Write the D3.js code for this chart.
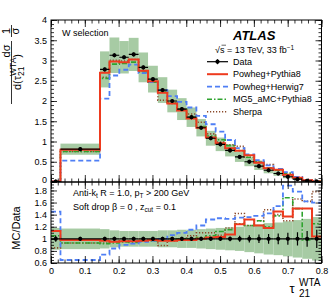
<!DOCTYPE html>
<html>
<head>
<meta charset="utf-8">
<script src="https://cdn.jsdelivr.net/npm/d3@7"></script>
<style>
  body { margin: 0; background: #fff; }
  svg { font-family: "Liberation Sans", Arial, Helvetica, sans-serif; }
  .axis text { font-size: 9px; fill: #000; }
  .axis line { stroke: #000; stroke-width: 0.8; }
  .lbl { font-size: 9px; fill: #000; }
</style>
</head>
<body>
<div id="chart"></div>
<script>

// bin edges of tau21 WTA (first narrow bin, one wide bin, then regular bins)
var binEdges = [0, 0.028, 0.145, 0.173, 0.202, 0.230, 0.259, 0.287, 0.316, 0.344, 0.373,
                0.401, 0.430, 0.458, 0.487, 0.515, 0.544, 0.572, 0.601, 0.629, 0.658,
                0.686, 0.715, 0.743, 0.772, 0.8];

// unfolded data, 1/sigma dsigma/dtau21
var dataValues = [0.01, 0.81, 2.78, 3.13, 3.08, 3.15, 2.83, 2.54, 2.27, 2.00, 1.80, 1.60,
                  1.34, 1.08, 0.93, 0.78, 0.62, 0.50, 0.39, 0.29, 0.21, 0.13, 0.07, 0.03, 0.012];
// relative total uncertainty (green band)
var dataUnc = [0.18, 0.17, 0.16, 0.14, 0.13, 0.13, 0.13, 0.13, 0.14, 0.14, 0.15, 0.15,
               0.16, 0.17, 0.18, 0.19, 0.20, 0.22, 0.24, 0.26, 0.27, 0.29, 0.31, 0.33, 0.36];
// relative stat uncertainty (error bars)
var dataStat = [0.05, 0.01, 0.01, 0.01, 0.01, 0.01, 0.01, 0.012, 0.012, 0.015, 0.015, 0.02,
                0.025, 0.03, 0.035, 0.04, 0.05, 0.06, 0.07, 0.08, 0.09, 0.10, 0.11, 0.13, 0.15];

// MC / Data
var ratioPythia = [1.13, 0.98, 0.97, 0.95, 0.96, 0.96, 0.97, 0.98, 0.97, 0.97, 0.98, 0.98,
                   1.00, 1.02, 1.03, 1.07, 1.24, 1.32, 1.22, 1.18, 1.45, 1.37, 1.50, 1.50, 1.04];
var ratioHerwig = [1.45, 0.65, 0.74, 0.84, 0.90, 0.92, 0.95, 0.97, 1.00, 1.06, 1.10, 1.15,
                   1.22, 1.32, 1.34, 1.33, 1.35, 1.36, 1.38, 1.42, 1.54, 1.88, 1.78, 1.62, 1.60];
var ratioMG5 = [1.05, 0.93, 0.92, 0.93, 0.95, 0.94, 0.96, 0.97, 0.98, 0.98, 1.00, 1.00,
                1.02, 1.05, 1.12, 1.15, 1.25, 1.22, 1.30, 1.20, 1.38, 1.68, 1.50, 0.98, 1.25];
var ratioSherpa = [0.85, 0.93, 0.93, 0.96, 0.97, 0.96, 0.97, 0.97, 0.89, 0.97, 1.00, 1.05,
                   1.10, 1.10, 1.06, 1.18, 1.42, 1.22, 1.30, 1.48, 1.40, 1.30, 1.66, 1.62, 1.78];

var seriesNames = ["Powheg+Pythia8", "Powheg+Herwig7", "MG5_aMC+Pythia8", "Sherpa"];

// tick values
var xMajor = [0, 0.1, 0.2, 0.3, 0.4, 0.5, 0.6, 0.7, 0.8];
var xMinor = d3.range(0, 0.8001, 0.02);
var yTopMajor = [0, 0.5, 1, 1.5, 2, 2.5, 3, 3.5, 4];
var yTopMinor = d3.range(0, 4.001, 0.1);
var yRatMajor = [0.6, 0.8, 1, 1.2, 1.4, 1.6, 1.8];
var yRatMinor = d3.range(0.6, 1.92, 0.05);

var params = {
    width: 333, height: 297,
    left: 51, right: 321.5, top: 20, mid: 182, bottom: 263
};

var styles = [
    { color: "#ee3a1e", dash: null, width: 2 },
    { color: "#4f7ff5", dash: "5,3", width: 1.8 },
    { color: "#2ea32e", dash: "5,2,1.5,2", width: 1.6 },
    { color: "#8b4a2b", dash: "1.2,1.8", width: 1.6 }
];
var bandColor = "#a7cba4";

var x = d3.scaleLinear().domain([0, 0.8]).range([params.left, params.right]);
var yTop = d3.scaleLinear().domain([0, 4]).range([params.mid, params.top]);
var yRat = d3.scaleLinear().domain([0.6, 1.94]).range([params.bottom, params.mid]);

var svg = d3.select("#chart").append("svg")
    .attr("width", params.width)
    .attr("height", params.height);

svg.append("rect").attr("width", params.width).attr("height", params.height).attr("fill", "#fff");

var defs = svg.append("defs");
defs.append("clipPath").attr("id", "clipTop").append("rect")
    .attr("x", params.left).attr("y", params.top)
    .attr("width", params.right - params.left).attr("height", params.mid - params.top);
defs.append("clipPath").attr("id", "clipRat").append("rect")
    .attr("x", params.left).attr("y", params.mid)
    .attr("width", params.right - params.left).attr("height", params.bottom - params.mid);

var bins = dataValues.map(function(v, i) {
    return { x0: binEdges[i], x1: binEdges[i + 1], v: v, u: dataUnc[i], s: dataStat[i] };
});
var ratios = [ratioPythia, ratioHerwig, ratioMG5, ratioSherpa];

function stepPoints(vals) {
    var pts = vals.map(function(v, i) { return [binEdges[i], v]; });
    pts.push([binEdges[binEdges.length - 1], vals[vals.length - 1]]);
    return pts;
}

// ---------------- top panel ----------------
var gTop = svg.append("g").attr("clip-path", "url(#clipTop)");

gTop.selectAll(".band").data(bins).enter().append("rect")
    .attr("x", function(d) { return x(d.x0); })
    .attr("width", function(d) { return x(d.x1) - x(d.x0); })
    .attr("y", function(d) { return yTop(d.v * (1 + d.u)); })
    .attr("height", function(d) { return yTop(d.v * (1 - d.u)) - yTop(d.v * (1 + d.u)); })
    .attr("fill", bandColor);

var lineTop = d3.line().x(function(d) { return x(d[0]); }).y(function(d) { return yTop(d[1]); })
    .curve(d3.curveStepAfter);

// draw sherpa first so red ends on top
[3, 2, 1, 0].forEach(function(k) {
    var mc = dataValues.map(function(v, i) { return v * ratios[k][i]; });
    gTop.append("path")
        .attr("d", lineTop(stepPoints(mc)))
        .attr("fill", "none")
        .attr("stroke", styles[k].color)
        .attr("stroke-width", styles[k].width)
        .attr("stroke-dasharray", styles[k].dash);
});

var dTop = gTop.selectAll(".dtop").data(bins).enter().append("g");
dTop.append("line")
    .attr("x1", function(d) { return x(d.x0); }).attr("x2", function(d) { return x(d.x1); })
    .attr("y1", function(d) { return yTop(d.v); }).attr("y2", function(d) { return yTop(d.v); })
    .attr("stroke", "#000").attr("stroke-width", 1.2);
dTop.append("line")
    .attr("x1", function(d) { return x((d.x0 + d.x1) / 2); }).attr("x2", function(d) { return x((d.x0 + d.x1) / 2); })
    .attr("y1", function(d) { return yTop(d.v) - 2; }).attr("y2", function(d) { return yTop(d.v) + 2; })
    .attr("stroke", "#000").attr("stroke-width", 1.2);
dTop.append("circle")
    .attr("cx", function(d) { return x((d.x0 + d.x1) / 2); })
    .attr("cy", function(d) { return yTop(d.v); })
    .attr("r", 2.1).attr("fill", "#000");

// ---------------- ratio panel ----------------
var gRat = svg.append("g").attr("clip-path", "url(#clipRat)");

gRat.selectAll(".band").data(bins).enter().append("rect")
    .attr("x", function(d) { return x(d.x0); })
    .attr("width", function(d) { return x(d.x1) - x(d.x0); })
    .attr("y", function(d) { return yRat(1 + d.u); })
    .attr("height", function(d) { return yRat(1 - d.u) - yRat(1 + d.u); })
    .attr("fill", bandColor);

var lineRat = d3.line().x(function(d) { return x(d[0]); }).y(function(d) { return yRat(d[1]); })
    .curve(d3.curveStepAfter);

[3, 2, 1, 0].forEach(function(k) {
    gRat.append("path")
        .attr("d", lineRat(stepPoints(ratios[k])))
        .attr("fill", "none")
        .attr("stroke", styles[k].color)
        .attr("stroke-width", styles[k].width)
        .attr("stroke-dasharray", styles[k].dash);
});

var dRat = gRat.selectAll(".drat").data(bins).enter().append("g");
dRat.append("line")
    .attr("x1", function(d) { return x(d.x0); }).attr("x2", function(d) { return x(d.x1); })
    .attr("y1", yRat(1)).attr("y2", yRat(1))
    .attr("stroke", "#000").attr("stroke-width", 1.2);
dRat.append("line")
    .attr("x1", function(d) { return x((d.x0 + d.x1) / 2); }).attr("x2", function(d) { return x((d.x0 + d.x1) / 2); })
    .attr("y1", function(d) { return Math.min(yRat(1) - 2, yRat(1 + d.s)); })
    .attr("y2", function(d) { return Math.max(yRat(1) + 2, yRat(1 - d.s)); })
    .attr("stroke", "#000").attr("stroke-width", 1.2);
dRat.append("circle")
    .attr("cx", function(d) { return x((d.x0 + d.x1) / 2); })
    .attr("cy", yRat(1))
    .attr("r", 2.1).attr("fill", "#000");

// ---------------- axes ----------------
function addAxis(axis, tx, ty) {
    var g = svg.append("g").attr("class", "axis")
        .attr("transform", "translate(" + tx + "," + ty + ")")
        .call(axis);
    g.select(".domain").remove();
    return g;
}
var noLabel = function() { return ""; };

// top panel
addAxis(d3.axisBottom(x).tickValues(xMajor).tickSize(-7).tickFormat(noLabel), 0, params.mid);
addAxis(d3.axisBottom(x).tickValues(xMinor).tickSize(-3.5).tickFormat(noLabel), 0, params.mid);
addAxis(d3.axisTop(x).tickValues(xMajor).tickSize(-7).tickFormat(noLabel), 0, params.top);
addAxis(d3.axisTop(x).tickValues(xMinor).tickSize(-3.5).tickFormat(noLabel), 0, params.top);
var yAxTop = addAxis(d3.axisLeft(yTop).tickValues(yTopMajor).tickSize(-6).tickPadding(4).tickFormat(d3.format("~g")), params.left, 0);
yAxTop.selectAll(".tick text").filter(function(d) { return d === 0; }).attr("dy", "0.1em");
addAxis(d3.axisLeft(yTop).tickValues(yTopMinor).tickSize(-3).tickFormat(noLabel), params.left, 0);
addAxis(d3.axisRight(yTop).tickValues(yTopMajor).tickSize(-6).tickFormat(noLabel), params.right, 0);
addAxis(d3.axisRight(yTop).tickValues(yTopMinor).tickSize(-3).tickFormat(noLabel), params.right, 0);

// ratio panel
addAxis(d3.axisTop(x).tickValues(xMajor).tickSize(-7).tickFormat(noLabel), 0, params.mid);
addAxis(d3.axisTop(x).tickValues(xMinor).tickSize(-3.5).tickFormat(noLabel), 0, params.mid);
addAxis(d3.axisBottom(x).tickValues(xMajor).tickSize(-7).tickPadding(5).tickFormat(d3.format("~g")), 0, params.bottom);
addAxis(d3.axisBottom(x).tickValues(xMinor).tickSize(-3.5).tickFormat(noLabel), 0, params.bottom);
addAxis(d3.axisLeft(yRat).tickValues(yRatMajor).tickSize(-6).tickPadding(4).tickFormat(d3.format("~g")), params.left, 0);
addAxis(d3.axisLeft(yRat).tickValues(yRatMinor).tickSize(-3).tickFormat(noLabel), params.left, 0);
addAxis(d3.axisRight(yRat).tickValues(yRatMajor).tickSize(-6).tickFormat(noLabel), params.right, 0);
addAxis(d3.axisRight(yRat).tickValues(yRatMinor).tickSize(-3).tickFormat(noLabel), params.right, 0);

// frames
svg.append("rect")
    .attr("x", params.left).attr("y", params.top)
    .attr("width", params.right - params.left).attr("height", params.mid - params.top)
    .attr("fill", "none").attr("stroke", "#000").attr("stroke-width", 1);
svg.append("rect")
    .attr("x", params.left).attr("y", params.mid)
    .attr("width", params.right - params.left).attr("height", params.bottom - params.mid)
    .attr("fill", "none").attr("stroke", "#000").attr("stroke-width", 1);

// ---------------- texts ----------------
svg.append("text").attr("class", "lbl").attr("x", 62).attr("y", 36).text("W selection");

svg.append("text").attr("x", 233).attr("y", 40)
    .style("font-size", "13px").style("font-weight", "bold").style("font-style", "italic")
    .text("ATLAS");

var lum = svg.append("text").attr("class", "lbl").attr("x", 215).attr("y", 53);
lum.append("tspan").text("\u221As = 13 TeV, 33 fb");
lum.append("tspan").attr("dy", -3.5).style("font-size", "6.5px").text("\u22121");
svg.append("line").attr("x1", 221.5).attr("x2", 226).attr("y1", 45.2).attr("y2", 45.2)
    .attr("stroke", "#000").attr("stroke-width", 0.6);

// legend
var legY = [61.7, 74.2, 86.7, 99.2, 111.7];
var leg = svg.append("g").attr("class", "legend");
leg.append("line").attr("x1", 207).attr("x2", 228).attr("y1", legY[0]).attr("y2", legY[0])
    .attr("stroke", "#000").attr("stroke-width", 1.2);
leg.append("line").attr("x1", 217.5).attr("x2", 217.5).attr("y1", legY[0] - 2.5).attr("y2", legY[0] + 2.5)
    .attr("stroke", "#000").attr("stroke-width", 1.2);
leg.append("circle").attr("cx", 217.5).attr("cy", legY[0]).attr("r", 2.1).attr("fill", "#000");
leg.append("text").attr("class", "lbl").attr("x", 233).attr("y", legY[0] + 3.2).text("Data");

seriesNames.forEach(function(name, k) {
    leg.append("line").attr("x1", 207).attr("x2", 228)
        .attr("y1", legY[k + 1]).attr("y2", legY[k + 1])
        .attr("stroke", styles[k].color)
        .attr("stroke-width", styles[k].width)
        .attr("stroke-dasharray", styles[k].dash);
    leg.append("text").attr("class", "lbl").attr("x", 233).attr("y", legY[k + 1] + 3.2).text(name);
});

// ratio panel annotation
var t1 = svg.append("text").attr("class", "lbl").attr("x", 73).attr("y", 196);
t1.append("tspan").text("Anti-k");
t1.append("tspan").attr("dy", 2).style("font-size", "6.5px").text("t");
t1.append("tspan").attr("dy", -2).text(" R = 1.0, p");
t1.append("tspan").attr("dy", 2).style("font-size", "6.5px").text("T");
t1.append("tspan").attr("dy", -2).text(" > 200 GeV");

var t2 = svg.append("text").attr("class", "lbl").attr("x", 73).attr("y", 209.5);
t2.append("tspan").text("Soft drop \u03B2 = 0 , z");
t2.append("tspan").attr("dy", 2).style("font-size", "6.5px").text("cut");
t2.append("tspan").attr("dy", -2).text(" = 0.1");

// axis titles
svg.append("text")
    .attr("transform", "translate(19.5,228) rotate(-90)")
    .attr("text-anchor", "middle")
    .style("font-size", "11px")
    .text("MC/Data");

// 1/sigma dsigma/d(tau21 WTA), built piece by piece, rotated
function rtext(bx, cy, str, size) {
    return svg.append("text")
        .attr("transform", "translate(" + bx + "," + cy + ") rotate(-90)")
        .attr("text-anchor", "middle")
        .style("font-size", size + "px")
        .text(str);
}
rtext(9.8, 31, "1", 11);
rtext(19, 31, "\u03C3", 11);
svg.append("line").attr("x1", 11.5).attr("x2", 11.5).attr("y1", 25).attr("y2", 37)
    .attr("stroke", "#000").attr("stroke-width", 0.8);
rtext(9.8, 51, "d\u03C3", 11);
svg.append("line").attr("x1", 11.5).attr("x2", 11.5).attr("y1", 41).attr("y2", 104)
    .attr("stroke", "#000").attr("stroke-width", 0.8);
var den = svg.append("text")
    .attr("transform", "translate(21,72) rotate(-90)")
    .attr("text-anchor", "middle")
    .style("font-size", "11px");
den.append("tspan").text("d(\u03C4");
den.append("tspan").attr("dy", 3).style("font-size", "8.5px").text("21");
den.append("tspan").attr("dy", -8).attr("dx", -9.5).style("font-size", "8.5px").text("WTA");
den.append("tspan").attr("dy", 5).text(")");

// x title
svg.append("text").attr("x", 289.5).attr("y", 293).style("font-size", "13px").text("\u03C4");
svg.append("text").attr("x", 299).attr("y", 285.5).style("font-size", "10px").text("WTA");
svg.append("text").attr("x", 299).attr("y", 296.5).style("font-size", "10px").text("21");

</script>
</body>
</html>
